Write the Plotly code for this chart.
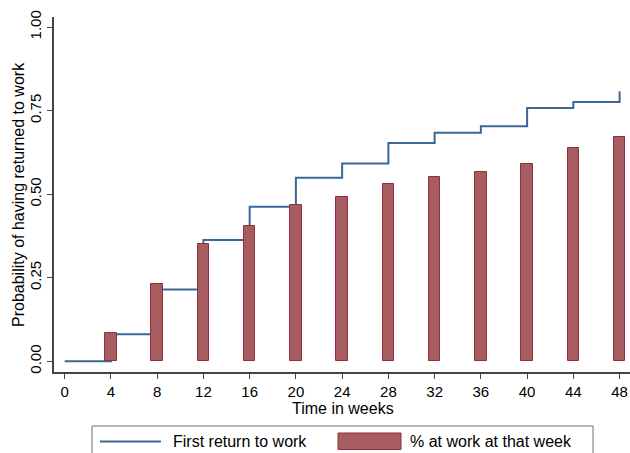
import plotly.graph_objects as go

weeks = [0, 4, 8, 12, 16, 20, 24, 28, 32, 36, 40, 44, 48]
first_return = [0.0, 0.081, 0.215, 0.363, 0.462, 0.549, 0.592, 0.653, 0.684, 0.703, 0.758, 0.776, 0.808]
bar_weeks = [4, 8, 12, 16, 20, 24, 28, 32, 36, 40, 44, 48]
at_work = [0.085, 0.23, 0.35, 0.405, 0.468, 0.492, 0.529, 0.550, 0.566, 0.590, 0.638, 0.670]
y_ticks = [0, 0.25, 0.5, 0.75, 1.0]
y_ticklabels = ["0.00", "0.25", "0.50", "0.75", "1.00"]
legend_labels = ["First return to work", "% at work at that week"]
x_title = "Time in weeks"
y_title = "Probability of having returned to work"

FONT = "Liberation Sans, Arial, sans-serif"
LINE_COLOR = "#3A6895"
BAR_COLOR = "#A65C60"
BAR_EDGE = "#8E2F3A"
XR = [-0.925, 48.9]
YR = [-0.032, 1.03]

W, H = 630, 453
ML, MR, MT, MB = 54, 0, 17, 81
PW, PH = W - ML - MR, H - MT - MB


def px(x):
    return (x - ML) / PW


def py(y):
    return (H - MB - y) / PH


fig = go.Figure()
fig.add_trace(go.Scatter(
    x=weeks, y=first_return, mode="lines", line=dict(shape="hv", color=LINE_COLOR, width=2),
    name=legend_labels[0], xaxis="x", yaxis="y"))
fig.add_trace(go.Bar(
    x=bar_weeks, y=at_work, width=1.0,
    marker=dict(color=BAR_COLOR, line=dict(color=BAR_EDGE, width=1)),
    name=legend_labels[1], xaxis="x2", yaxis="y2"))

axis_common = dict(ticks="outside", ticklen=5, tickwidth=1, tickcolor="#444", showline=True,
                   linecolor="#444", linewidth=1.5, showgrid=False, zeroline=False,
                   automargin=False, tickfont=dict(size=15))

# manual legend (box, line sample, bar swatch, labels)
shapes = [
    dict(type="rect", xref="paper", yref="paper", x0=px(92), x1=px(593), y0=py(426), y1=py(470),
         line=dict(color="#6E6E6E", width=1), fillcolor="rgba(0,0,0,0)"),
    dict(type="line", xref="paper", yref="paper", x0=px(100), x1=px(161), y0=py(441.5), y1=py(441.5),
         line=dict(color=LINE_COLOR, width=2)),
    dict(type="rect", xref="paper", yref="paper", x0=px(338), x1=px(401), y0=py(433), y1=py(449.5),
         line=dict(color=BAR_EDGE, width=1), fillcolor=BAR_COLOR),
]
annotations = [
    dict(text=legend_labels[0], xref="paper", yref="paper", x=px(171), y=py(441.5),
         xanchor="left", yanchor="middle", showarrow=False, font=dict(size=16)),
    dict(text=legend_labels[1], xref="paper", yref="paper", x=px(408), y=py(441.5),
         xanchor="left", yanchor="middle", showarrow=False, font=dict(size=16)),
    dict(text=y_title, xref="paper", yref="paper", x=px(18), y=py(195), textangle=-90,
         xanchor="center", yanchor="middle", showarrow=False, font=dict(size=16)),
    dict(text=x_title, xref="paper", yref="paper", x=px(343), y=py(408),
         xanchor="center", yanchor="middle", showarrow=False, font=dict(size=16)),
]

fig.update_layout(
    width=W, height=H,
    margin=dict(l=ML, r=MR, t=MT, b=MB),
    paper_bgcolor="white", plot_bgcolor="white",
    font=dict(family=FONT, size=15, color="black"),
    showlegend=False,
    bargap=0,
    shapes=shapes,
    annotations=annotations,
    xaxis=dict(range=XR, tickvals=weeks, **axis_common),
    yaxis=dict(range=YR, tickvals=y_ticks, ticktext=y_ticklabels, tickangle=-90, **axis_common),
    xaxis2=dict(range=XR, overlaying="x", visible=False),
    yaxis2=dict(range=YR, overlaying="y", visible=False),
)

fig.write_html("out.html", config={"displayModeBar": False},
               post_script="document.body.style.margin='0';document.body.style.overflow='hidden';")
